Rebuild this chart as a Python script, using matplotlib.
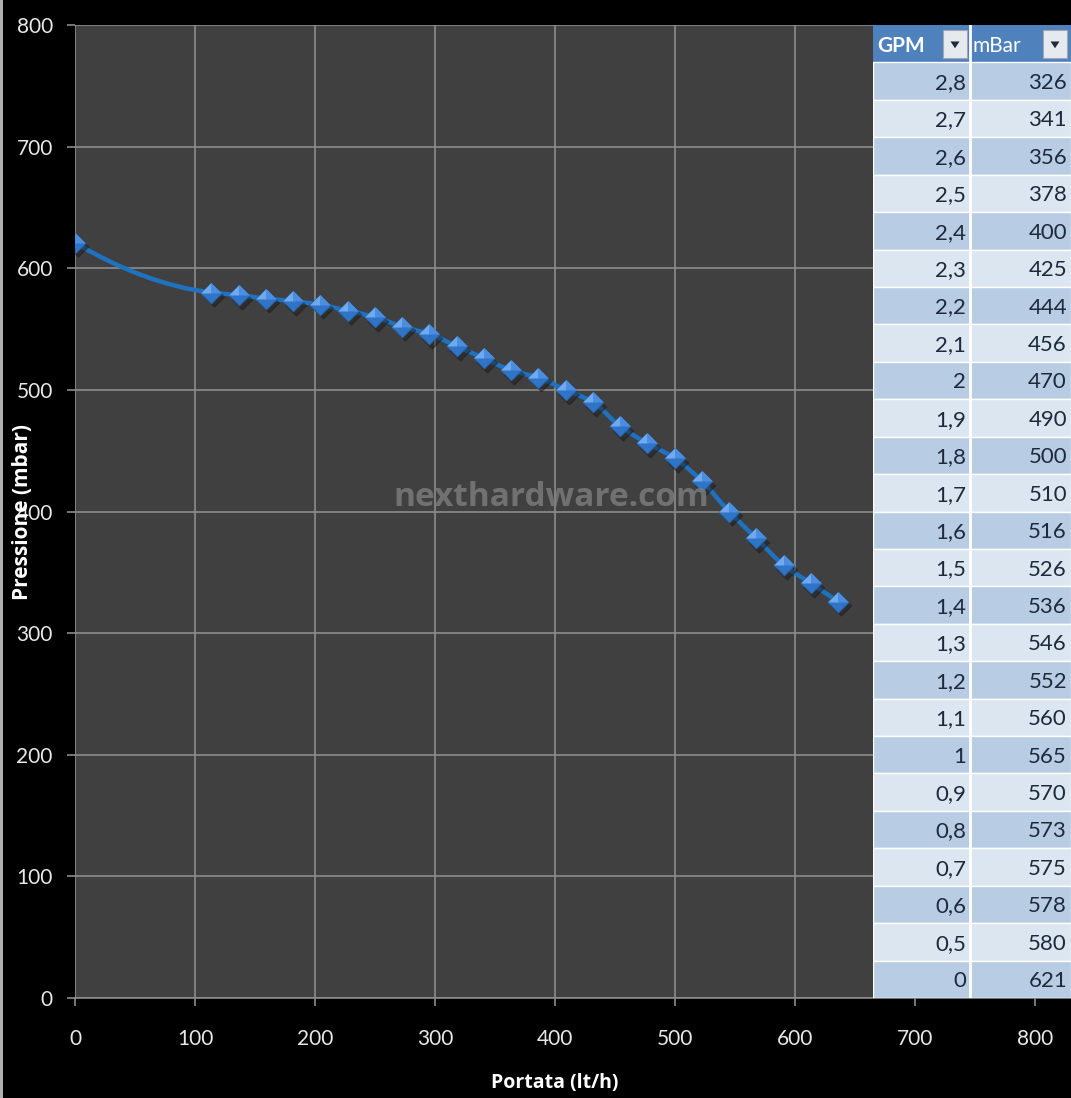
import numpy as np
import matplotlib
matplotlib.use("Agg")
import matplotlib.pyplot as plt
from matplotlib.path import Path
from matplotlib.patches import PathPatch, Rectangle, Polygon

# Pump curve: flow in US gallons per minute vs head pressure in mbar
gpm = [0, 0.5, 0.6, 0.7, 0.8, 0.9, 1.0, 1.1, 1.2, 1.3, 1.4, 1.5, 1.6,
       1.7, 1.8, 1.9, 2.0, 2.1, 2.2, 2.3, 2.4, 2.5, 2.6, 2.7, 2.8]
mbar = [621, 580, 578, 575, 573, 570, 565, 560, 552, 546, 536, 526, 516,
        510, 500, 490, 470, 456, 444, 425, 400, 378, 356, 341, 326]
LPH_PER_GPM = 227.1  # litres per hour in one US gallon per minute

x_ticks = [0, 100, 200, 300, 400, 500, 600, 700, 800]
y_ticks = [0, 100, 200, 300, 400, 500, 600, 700, 800]

portata = [g * LPH_PER_GPM for g in gpm]

plt.rcParams['font.family'] = ['Lato', 'DejaVu Sans']

W, H = 1071, 1098
fig = plt.figure(figsize=(W / 100, H / 100), dpi=100, facecolor='black')

ax_left, ax_right = 75 / W, 1.0
ax_bottom, ax_top = 1 - 998 / H, 1 - 25 / H
ax = fig.add_axes([ax_left, ax_bottom, ax_right - ax_left, ax_top - ax_bottom])
ax.set_facecolor('#404040')
ax.set_xlim(0, 830)
ax.set_ylim(0, 800)
ax.set_xticks(x_ticks)
ax.set_yticks(y_ticks)
ax.grid(True, color='#8c8c8c', linewidth=1.2)
ax.set_axisbelow(True)
for side in ['top', 'right', 'left']:
    ax.spines[side].set_visible(False)
ax.spines['bottom'].set_color('#8c8c8c')
ax.spines['bottom'].set_linewidth(1.2)
ax.tick_params(colors='#8c8c8c', labelcolor='#e8e8e8', labelsize=15,
               length=6, width=1.2)
ax.tick_params(axis='x', pad=16)
ax.tick_params(axis='y', pad=10)


def pchip_slopes(x, y):
    """Shape-preserving tangents for a smooth line through the points."""
    x = np.asarray(x, float)
    y = np.asarray(y, float)
    h = np.diff(x)
    d = np.diff(y) / h
    m = np.zeros_like(x)
    for k in range(1, len(x) - 1):
        if d[k - 1] * d[k] <= 0:
            m[k] = 0.0
        else:
            w1 = 2 * h[k] + h[k - 1]
            w2 = h[k] + 2 * h[k - 1]
            m[k] = (w1 + w2) / (w1 / d[k - 1] + w2 / d[k])

    def end(h0, h1, d0, d1):
        s = ((2 * h0 + h1) * d0 - h0 * d1) / (h0 + h1)
        if np.sign(s) != np.sign(d0):
            s = 0.0
        elif np.sign(d0) != np.sign(d1) and abs(s) > abs(3 * d0):
            s = 3 * d0
        return s

    m[0] = end(h[0], h[1], d[0], d[1])
    m[-1] = end(h[-1], h[-2], d[-1], d[-2])
    return m


# Smoothed line through the points as cubic Bezier segments
slopes = pchip_slopes(portata, mbar)
verts = [(portata[0], mbar[0])]
codes = [Path.MOVETO]
for i in range(len(portata) - 1):
    x0, x1 = portata[i], portata[i + 1]
    y0, y1 = mbar[i], mbar[i + 1]
    h = (x1 - x0) / 3.0
    verts += [(x0 + h, y0 + slopes[i] * h), (x1 - h, y1 - slopes[i + 1] * h), (x1, y1)]
    codes += [Path.CURVE4] * 3
ax.add_patch(PathPatch(Path(verts, codes), facecolor='none',
                       edgecolor='#1f72c0', linewidth=3.2, zorder=3,
                       capstyle='round', joinstyle='round'))

# Pyramid-style diamond markers
diamond = [(0, 1), (-1, 0), (0, -1), (1, 0)]
facet_tl = [(0, 1), (-1, 0), (0, 0)]
facet_tr = [(0, 1), (1, 0), (0, 0)]
msize = 15
ax.plot(np.array(portata) + 2.5, np.array(mbar) - 3, linestyle='none',
        marker=diamond, markersize=msize, color='#1a1a1a', alpha=0.45, zorder=4)
ax.plot(portata, mbar, linestyle='none', marker=diamond, markersize=msize,
        markerfacecolor='#2f74c6', markeredgecolor='#2a62a6',
        markeredgewidth=0.6, zorder=5)
ax.plot(portata, mbar, linestyle='none', marker=facet_tl, markersize=msize,
        markerfacecolor='#6fa9ee', markeredgecolor='none', zorder=6)
ax.plot(portata, mbar, linestyle='none', marker=facet_tr, markersize=msize,
        markerfacecolor='#4b8de0', markeredgecolor='none', zorder=6)

ax.set_xlabel('Portata (lt/h)', color='white', fontsize=14, fontweight='bold',
              family=['Open Sans', 'DejaVu Sans'])
ax.xaxis.set_label_coords(480 / (W - 75), -(1083 - 998) / (998 - 25))
ax.xaxis.label.set_va('center')
ax.set_ylabel('Pressione (mbar)', color='white', fontsize=15, fontweight='bold',
              family=['Open Sans', 'DejaVu Sans'])
ax.yaxis.set_label_coords(-(75 - 23) / (W - 75), (998 - 512) / (998 - 25))
ax.yaxis.label.set_va('center')

# Site watermark
fig.text(551 / W, 1 - 497 / H, 'nexthardware.com', color='#7e7e7e', alpha=0.8,
         fontsize=24, fontweight='bold', family=['Open Sans', 'DejaVu Sans'],
         ha='center', va='center', zorder=10)

# Data table on the right
tab_left = 873 / W
tab = fig.add_axes([tab_left, ax_bottom, 1.0 - tab_left, ax_top - ax_bottom])
tab.set_xlim(0, 198)
tab.set_ylim(len(gpm) + 1, 0)
tab.axis('off')
col_split = 97
header_color = '#4f81bd'
dark_row = '#b8cce4'
light_row = '#dce6f1'

tab.add_patch(Rectangle((0, 0), 198, 1, facecolor=header_color,
                        edgecolor='none'))
tab.text(4, 0.55, 'GPM', color='white', fontsize=15, fontweight='bold',
         ha='left', va='center')
tab.text(col_split + 3, 0.55, 'mBar', color='white', fontsize=15,
         ha='left', va='center')
for bx in (70, 170):
    tab.add_patch(Rectangle((bx, 0.14), 24, 0.74, facecolor='#e6e9ee',
                            edgecolor='#a0a8b4', linewidth=0.8))
    tab.add_patch(Polygon([(bx + 7.5, 0.44), (bx + 16.5, 0.44), (bx + 12, 0.62)],
                          closed=True, facecolor='#1f2a3a', edgecolor='none'))

rows = list(zip(gpm, mbar))[::-1]
for r, (g, m) in enumerate(rows, start=1):
    color = dark_row if r % 2 == 1 else light_row
    tab.add_patch(Rectangle((0, r), 198, 1, facecolor=color,
                            edgecolor='white', linewidth=1))
    g_text = ('%g' % g).replace('.', ',')
    tab.text(col_split - 4, r + 0.55, g_text, color='#1e2a3c', fontsize=16,
             ha='right', va='center')
    tab.text(194, r + 0.55, str(m), color='#1e2a3c', fontsize=16,
             ha='right', va='center')
tab.plot([col_split, col_split], [0, len(gpm) + 1], color='white', linewidth=2)

# Light frame strip on the far left
fig.add_artist(Rectangle((0, 0), 3 / W, 1, transform=fig.transFigure,
                         facecolor='#b0b0b0', edgecolor='none'))

fig.savefig('out.png', dpi=100, facecolor='black')
